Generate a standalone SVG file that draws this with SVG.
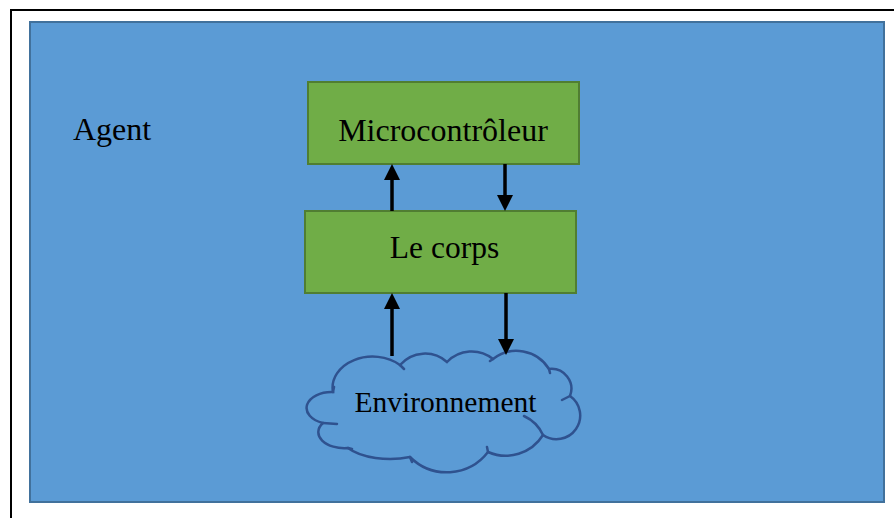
<svg xmlns="http://www.w3.org/2000/svg" width="894" height="518" viewBox="0 0 894 518">
<defs>
<style>
.frame{fill:none;stroke:#000;stroke-width:2}
.bg{fill:#5b9bd5;stroke:#41719c;stroke-width:2}
.box{fill:#70ad47;stroke:#507e32;stroke-width:2}
.cloud{fill:none;stroke:#2f528f;stroke-width:2.5;stroke-linecap:round}
.lbl{font-family:"Liberation Serif","Times New Roman",serif;font-size:32px;fill:#000}
.arr{stroke:#000;stroke-width:3.5;fill:none;marker-end:url(#ah)}
</style>
<marker id="ah" viewBox="0 0 16 16" markerWidth="16" markerHeight="16" markerUnits="userSpaceOnUse" refX="6" refY="8" orient="auto">
<path d="M0,0 L16,8 L0,16 z" fill="#000"/>
</marker>
</defs>
<rect width="894" height="518" fill="#fff"/>
<path class="frame" d="M11,518 L11,10 L894,10"/>
<g id="agent">
<rect class="bg" x="30" y="22" width="854" height="480"/>
<text class="lbl" x="73" y="140">Agent</text>
</g>
<g id="microcontroleur">
<rect class="box" x="308" y="82" width="271" height="82"/>
<text class="lbl" x="443" y="141" text-anchor="middle">Microcontrôleur</text>
</g>
<g id="corps">
<rect class="box" x="305" y="211" width="271" height="82"/>
<text class="lbl" x="444.5" y="258" text-anchor="middle" style="font-size:31.5px">Le corps</text>
</g>
<g id="environnement">
<path class="cloud" d="M333,392 A40,31 0 0 1 400,365 A33,33 0 0 1 447,362 A34,34 0 0 1 493,359 A38,38 0 0 1 549,369 A20,20 0 0 1 570,396 A23,23 0 0 1 543,435 A44,44 0 0 1 488,452 A52,52 0 0 1 410,457 A50,24 0 0 1 348,448 A26,16 0 0 1 323,423 A25,16 0 0 1 333,392 Z"/>
<path class="cloud" d="M400,365 L404,369 M333,392 L334,387 M323,423 L337,424 M348,448 L352,449 M410,457 L412,462 M493,359 L490,361 M549,369 L550,373 M570,396 L562,400 M543,435 Q537,422 524,416 M488,452 L487,447"/>
<text class="lbl" x="445.5" y="412" text-anchor="middle" style="font-size:29.5px">Environnement</text>
</g>
<g id="connectors">
<line class="arr" x1="392" y1="211" x2="392" y2="174"/>
<line class="arr" x1="505" y1="164" x2="505" y2="201"/>
<line class="arr" x1="392" y1="356" x2="392" y2="303"/>
<line class="arr" x1="506" y1="293" x2="506" y2="345"/>
</g>
</svg>
